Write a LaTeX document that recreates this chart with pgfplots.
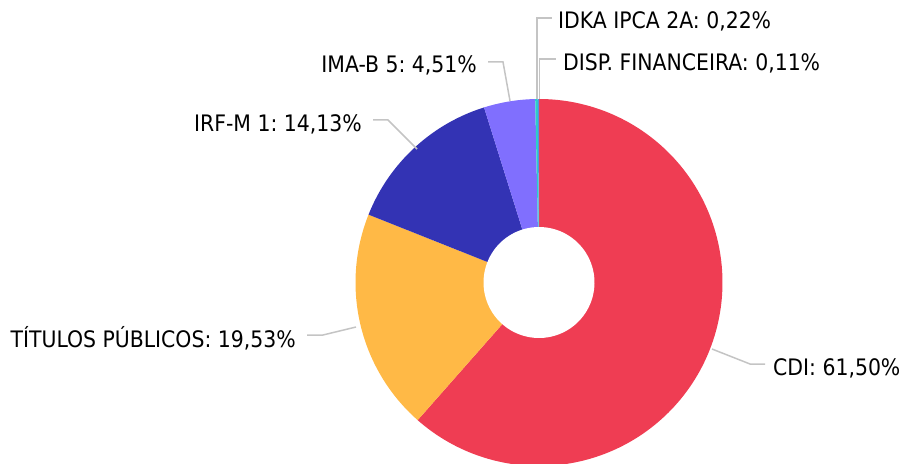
\documentclass[border=0pt]{standalone}
\usepackage{pgfplots}
\pgfplotsset{compat=1.18}
\usepackage{fontspec}
\setmainfont{DejaVu Sans Condensed}
\frenchspacing
\definecolor{cCDI}{HTML}{EF3D53}
\definecolor{cTP}{HTML}{FFB946}
\definecolor{cIRF}{HTML}{3333B4}
\definecolor{cIMAB}{HTML}{806FFE}
\definecolor{cIDKA}{HTML}{2BD0C8}
\definecolor{cDISP}{HTML}{5A8FE0}
\definecolor{leader}{HTML}{C4C4C4}
\newcommand\lblfont{\fontsize{22.7bp}{26bp}\selectfont}
\tikzset{lab/.style={font=\lblfont, inner sep=0pt, text=black}}
% shares (%)
\def\vCDI{61.50}
\def\vTP{19.53}
\def\vIRF{14.13}
\def\vIMAB{4.51}
\def\vIDKA{0.22}
\def\vDISP{0.11}
\pgfmathsetmacro\aA{0}
\pgfmathsetmacro\aB{\aA+3.6*\vCDI}
\pgfmathsetmacro\aC{\aB+3.6*\vTP}
\pgfmathsetmacro\aD{\aC+3.6*\vIRF}
\pgfmathsetmacro\aE{\aD+3.6*\vIMAB}
\pgfmathsetmacro\aF{\aE+3.6*\vIDKA}
\pgfmathsetmacro\aG{\aF+3.6*\vDISP}
\def\cx{539}
\def\cy{282.5}
\def\R{183.5}
\def\r{55.5}
\begin{document}
\begin{tikzpicture}
\path[use as bounding box] (0,0) rectangle (903bp,464bp);
\begin{axis}[at={(0,0)}, anchor=south west, scale only axis,
  width=903bp, height=464bp, xmin=0, xmax=903, ymin=0, ymax=464,
  y dir=reverse, hide axis, clip=true]
\addplot[fill=cCDI, draw=none, domain=\aA:\aB, samples=150, variable=\t] ({\cx+\R*sin(\t)},{\cy-\R*cos(\t)}) -- (\cx,\cy) -- cycle;
\addplot[fill=cTP, draw=none, domain=\aB:\aC, samples=60, variable=\t] ({\cx+\R*sin(\t)},{\cy-\R*cos(\t)}) -- (\cx,\cy) -- cycle;
\addplot[fill=cIRF, draw=none, domain=\aC:\aD, samples=50, variable=\t] ({\cx+\R*sin(\t)},{\cy-\R*cos(\t)}) -- (\cx,\cy) -- cycle;
\addplot[fill=cIMAB, draw=none, domain=\aD:\aE, samples=20, variable=\t] ({\cx+\R*sin(\t)},{\cy-\R*cos(\t)}) -- (\cx,\cy) -- cycle;
\addplot[fill=cIDKA, draw=none, domain=\aE:\aF, samples=3, variable=\t] ({\cx+\R*sin(\t)},{\cy-\R*cos(\t)}) -- (\cx,\cy) -- cycle;
\addplot[fill=cDISP, draw=none, domain=\aF:\aG, samples=3, variable=\t] ({\cx+\R*sin(\t)},{\cy-\R*cos(\t)}) -- (\cx,\cy) -- cycle;
\addplot[fill=white, draw=none, domain=0:360, samples=100, variable=\t] ({\cx+\r*sin(\t)},{\cy-\r*cos(\t)}) -- cycle;
% leader lines
\draw[leader, line width=1.5bp] (537,99) -- (537,18) -- (552,18);
\draw[leader, line width=1.5bp] (539.6,99) -- (539.6,59) -- (556,59);
\draw[leader, line width=1.5bp] (510,101) -- (503,62) -- (488,62);
\draw[leader, line width=1.5bp] (417,149) -- (388,120) -- (373,120);
\draw[leader, line width=1.5bp] (356,327) -- (323,335) -- (307,335);
\draw[leader, line width=1.5bp] (712,349) -- (750,364) -- (765,364);
% labels
\node[lab, anchor=base west] at (558,29) {IDKA IPCA 2A: 0,22\%};
\node[lab, anchor=base west] at (563,71) {DISP. FINANCEIRA: 0,11\%};
\node[lab, anchor=base east] at (477,73) {IMA-B 5: 4,51\%};
\node[lab, anchor=base east] at (362,131) {IRF-M 1: 14,13\%};
\node[lab, anchor=base east] at (296,347) {TÍTULOS PÚBLICOS: 19,53\%};
\node[lab, anchor=base west] at (773,375) {CDI: 61,50\%};
\end{axis}
\end{tikzpicture}
\end{document}
